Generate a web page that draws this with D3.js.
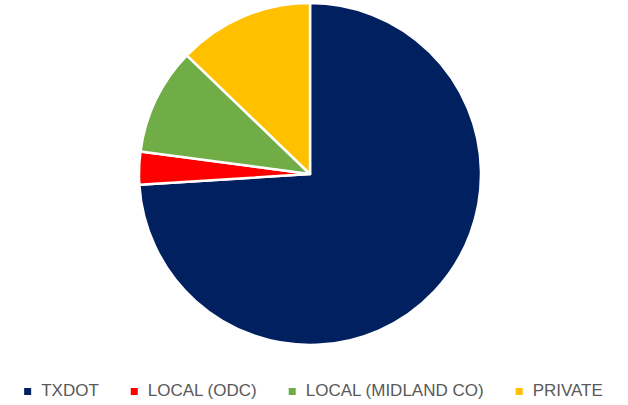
<!DOCTYPE html>
<html><head><meta charset="utf-8">
<script src="https://cdn.jsdelivr.net/npm/d3@7"></script>
<style>body{margin:0;background:#fff}</style>
</head><body>
<svg id="c" width="628" height="405"></svg>
<script>
const categories = ["TXDOT", "LOCAL (ODC)", "LOCAL (MIDLAND CO)", "PRIVATE"];
const values = [74.0, 3.1, 10.1, 12.8];
const colors = ["#002060", "#FF0000", "#70AD47", "#FFC000"];

const svg = d3.select("#c");
const cx = 310, cy = 174, r = 171;
const pie = d3.pie().sort(null).value(d => d)(values);
const arc = d3.arc().innerRadius(0).outerRadius(r);
const g = svg.append("g").attr("transform", `translate(${cx},${cy})`);
g.selectAll("path").data(pie).join("path")
  .attr("d", arc)
  .attr("fill", (d, i) => colors[i])
  .attr("stroke", "#fff").attr("stroke-width", 2.5).attr("stroke-linejoin", "round");

// legend
const lg = svg.append("g");
const items = lg.selectAll("g").data(categories).join("g");
items.append("rect").attr("width", 7).attr("height", 7).attr("y", -8).attr("fill", (d, i) => colors[i]);
items.append("text").attr("x", 17).attr("y", 0)
  .attr("font-family", "'Liberation Sans', Arial, sans-serif")
  .attr("font-size", 17).attr("fill", "#595959").text(d => d);
const gap = 32;
let x = 0;
items.each(function () {
  const t = d3.select(this).select("text").node().getComputedTextLength();
  d3.select(this).attr("transform", `translate(${x},0)`);
  x += 17 + t + gap;
});
const total = x - gap;
lg.attr("transform", `translate(${313.5 - total / 2},396)`);
</script>
</body></html>
